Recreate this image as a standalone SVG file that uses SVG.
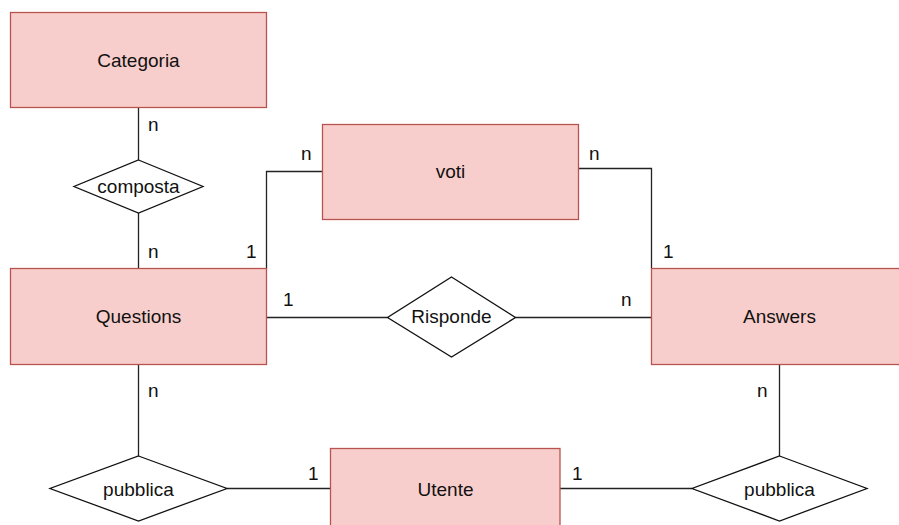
<svg xmlns="http://www.w3.org/2000/svg" width="899" height="525" viewBox="0 0 899 525">
  <style>
    .entity { fill: #f8cecc; stroke: #b85450; stroke-width: 1.3; }
    .rel { fill: #ffffff; stroke: #111111; stroke-width: 1.3; }
    .edge { fill: none; stroke: #222222; stroke-width: 1.3; }
    text { font-family: "Liberation Sans", Helvetica, Arial, sans-serif; font-size: 19px; fill: #111111; }
    .label { text-anchor: middle; }
  </style>
  <rect width="899" height="525" fill="#ffffff"/>

  <!-- connectors -->
  <g id="connectors">
    <path class="edge" d="M138.5,107.5 V160"/>
    <path class="edge" d="M138.5,212.5 V268.5"/>
    <path class="edge" d="M266.5,268.5 V171.5 H322.5"/>
    <path class="edge" d="M578.5,168.5 H651.5 V268.5"/>
    <path class="edge" d="M266.5,317.5 H387.5"/>
    <path class="edge" d="M515.5,317.5 H651.5"/>
    <path class="edge" d="M138.5,364.5 V456"/>
    <path class="edge" d="M227,488.5 H330.5"/>
    <path class="edge" d="M560,488.5 H692"/>
    <path class="edge" d="M779.5,364.5 V456"/>

    <!-- cardinalities -->
    <text x="148" y="131">n</text>
    <text x="148" y="258">n</text>
    <text x="246" y="258">1</text>
    <text x="301" y="160">n</text>
    <text x="589" y="160">n</text>
    <text x="663" y="258">1</text>
    <text x="283" y="306">1</text>
    <text x="621" y="306">n</text>
    <text x="148" y="397">n</text>
    <text x="308" y="480">1</text>
    <text x="572" y="480">1</text>
    <text x="757" y="397">n</text>
  </g>

  <!-- entities -->
  <g id="categoria">
    <rect class="entity" x="10.5" y="12.5" width="256" height="95"/>
    <text class="label" x="138.5" y="67">Categoria</text>
  </g>
  <g id="questions">
    <rect class="entity" x="10.5" y="268.5" width="256" height="96"/>
    <text class="label" x="138.5" y="323">Questions</text>
  </g>
  <g id="voti">
    <rect class="entity" x="322.5" y="124.5" width="256" height="95"/>
    <text class="label" x="450.5" y="178">voti</text>
  </g>
  <g id="answers">
    <rect class="entity" x="651.5" y="268.5" width="262" height="96"/>
    <text class="label" x="779.5" y="323">Answers</text>
  </g>
  <g id="utente">
    <rect class="entity" x="330.5" y="448.5" width="229.5" height="96"/>
    <text class="label" x="445.5" y="496">Utente</text>
  </g>

  <!-- relationships -->
  <g id="composta">
    <polygon class="rel" points="138.5,160 203,186.5 138.5,213 74,186.5"/>
    <text class="label" x="138.5" y="193">composta</text>
  </g>
  <g id="risponde">
    <polygon class="rel" points="451.5,277 515.5,317.5 451.5,357 387.5,317.5"/>
    <text class="label" x="451.5" y="323">Risponde</text>
  </g>
  <g id="pubblica-questions">
    <polygon class="rel" points="138.5,456 227,488.5 138.5,521 50,488.5"/>
    <text class="label" x="138.5" y="496">pubblica</text>
  </g>
  <g id="pubblica-answers">
    <polygon class="rel" points="779.5,456 867,488.5 779.5,521 692,488.5"/>
    <text class="label" x="779.5" y="496">pubblica</text>
  </g>
</svg>
